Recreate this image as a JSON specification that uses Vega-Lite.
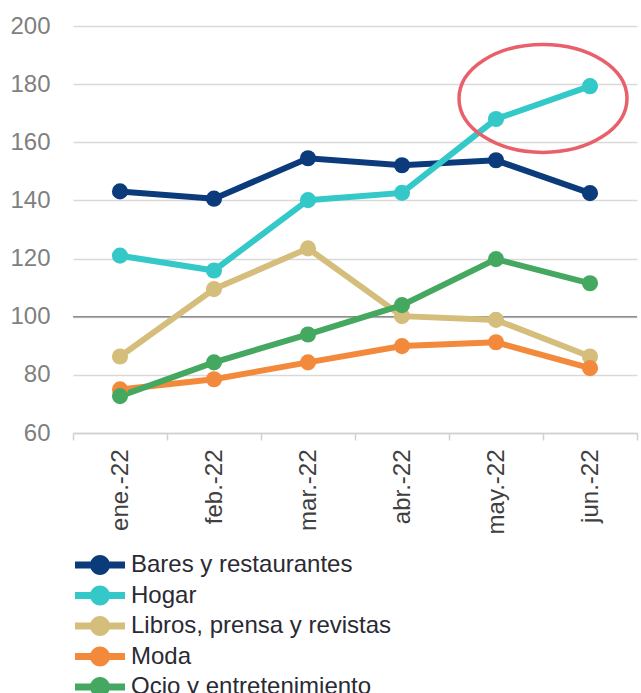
{
  "$schema": "https://vega.github.io/schema/vega-lite/v6.json",
  "width": 564,
  "height": 407,
  "autosize": {"type": "none"},
  "padding": {"left": 73, "top": 26, "right": 4, "bottom": 260},
  "background": "white",
  "config": {"view": {"stroke": null}, "font": "Liberation Sans"},
  "datasets": {
    "series": [
      {"mes": "ene.-22", "serie": "Bares y restaurantes", "valor": 143.1},
      {"mes": "feb.-22", "serie": "Bares y restaurantes", "valor": 140.6},
      {"mes": "mar.-22", "serie": "Bares y restaurantes", "valor": 154.5},
      {"mes": "abr.-22", "serie": "Bares y restaurantes", "valor": 152.1},
      {"mes": "may.-22", "serie": "Bares y restaurantes", "valor": 153.8},
      {"mes": "jun.-22", "serie": "Bares y restaurantes", "valor": 142.5},
      {"mes": "ene.-22", "serie": "Hogar", "valor": 121.0},
      {"mes": "feb.-22", "serie": "Hogar", "valor": 115.9},
      {"mes": "mar.-22", "serie": "Hogar", "valor": 140.1},
      {"mes": "abr.-22", "serie": "Hogar", "valor": 142.6},
      {"mes": "may.-22", "serie": "Hogar", "valor": 168.0},
      {"mes": "jun.-22", "serie": "Hogar", "valor": 179.3},
      {"mes": "ene.-22", "serie": "Libros, prensa y revistas", "valor": 86.3},
      {"mes": "feb.-22", "serie": "Libros, prensa y revistas", "valor": 109.5},
      {"mes": "mar.-22", "serie": "Libros, prensa y revistas", "valor": 123.5},
      {"mes": "abr.-22", "serie": "Libros, prensa y revistas", "valor": 100.2},
      {"mes": "may.-22", "serie": "Libros, prensa y revistas", "valor": 98.9},
      {"mes": "jun.-22", "serie": "Libros, prensa y revistas", "valor": 86.3},
      {"mes": "ene.-22", "serie": "Moda", "valor": 75.0},
      {"mes": "feb.-22", "serie": "Moda", "valor": 78.5},
      {"mes": "mar.-22", "serie": "Moda", "valor": 84.3},
      {"mes": "abr.-22", "serie": "Moda", "valor": 89.9},
      {"mes": "may.-22", "serie": "Moda", "valor": 91.2},
      {"mes": "jun.-22", "serie": "Moda", "valor": 82.3},
      {"mes": "ene.-22", "serie": "Ocio y entretenimiento", "valor": 72.7},
      {"mes": "feb.-22", "serie": "Ocio y entretenimiento", "valor": 84.3},
      {"mes": "mar.-22", "serie": "Ocio y entretenimiento", "valor": 93.9},
      {"mes": "abr.-22", "serie": "Ocio y entretenimiento", "valor": 104.0},
      {"mes": "may.-22", "serie": "Ocio y entretenimiento", "valor": 119.8},
      {"mes": "jun.-22", "serie": "Ocio y entretenimiento", "valor": 111.5}
    ],
    "nota": [{"mes": "may.-22", "valor": 175.1}],
    "referencia": [{"valor": 100}]
  },
  "layer": [
    {
      "data": {"name": "referencia"},
      "mark": {"type": "rule", "color": "#8c8c8c", "strokeWidth": 1.5},
      "encoding": {
        "y": {"field": "valor", "type": "quantitative", "scale": {"domain": [60, 200], "nice": false}}
      }
    },
    {
      "data": {"name": "series"},
      "mark": {"type": "line", "strokeWidth": 6},
      "encoding": {
        "x": {
          "field": "mes", "type": "ordinal", "bandPosition": 0.5,
          "sort": ["ene.-22", "feb.-22", "mar.-22", "abr.-22", "may.-22", "jun.-22"],
          "scale": {"type": "band", "paddingInner": 0, "paddingOuter": 0},
          "axis": {
            "title": null, "labelAngle": -90, "labelFontSize": 24, "labelColor": "#404040",
            "tickBand": "extent", "ticks": true, "tickSize": 7, "tickColor": "#d0d0d0", "tickWidth": 1.5,
            "domainColor": "#d0d0d0", "domainWidth": 1.5, "labelPadding": 9, "grid": false
          }
        },
        "y": {
          "field": "valor", "type": "quantitative",
          "scale": {"domain": [60, 200], "nice": false},
          "axis": {
            "title": null, "values": [60, 80, 100, 120, 140, 160, 180, 200],
            "labelFontSize": 24, "labelColor": "#7f7f7f", "ticks": false, "domain": false,
            "labelPadding": 23, "gridColor": "#d9d9d9", "gridWidth": 1.5
          }
        },
        "color": {
          "field": "serie", "type": "nominal",
          "scale": {
            "domain": ["Bares y restaurantes", "Hogar", "Libros, prensa y revistas", "Moda", "Ocio y entretenimiento"],
            "range": ["#0b3b7b", "#35c8c8", "#d5be7b", "#f38a3b", "#45a860"]
          },
          "legend": {
            "title": null, "orient": "none", "legendX": 15, "legendY": 527, "direction": "vertical",
            "symbolType": "M -2.5 -0.35 L 2.5 -0.35 L 2.5 0.35 L -2.5 0.35 Z M -1 0 A 1 1 0 1 1 1 0 A 1 1 0 1 1 -1 0 Z",
            "symbolSize": 400, "symbolStrokeWidth": 0, "symbolOpacity": 1,
            "labelFontSize": 24, "labelColor": "#2a2a35", "labelOffset": 19,
            "rowPadding": 6.5, "padding": 0, "labelLimit": 0
          }
        }
      }
    },
    {
      "data": {"name": "series"},
      "mark": {"type": "point", "filled": true, "size": 260, "opacity": 1},
      "encoding": {
        "x": {
          "field": "mes", "type": "ordinal", "bandPosition": 0.5,
          "sort": ["ene.-22", "feb.-22", "mar.-22", "abr.-22", "may.-22", "jun.-22"],
          "scale": {"type": "band", "paddingInner": 0, "paddingOuter": 0}
        },
        "y": {"field": "valor", "type": "quantitative", "scale": {"domain": [60, 200], "nice": false}},
        "color": {
          "field": "serie", "type": "nominal",
          "scale": {
            "domain": ["Bares y restaurantes", "Hogar", "Libros, prensa y revistas", "Moda", "Ocio y entretenimiento"],
            "range": ["#0b3b7b", "#35c8c8", "#d5be7b", "#f38a3b", "#45a860"]
          },
          "legend": {
            "title": null, "orient": "none", "legendX": 15, "legendY": 527, "direction": "vertical",
            "symbolType": "M -2.5 -0.35 L 2.5 -0.35 L 2.5 0.35 L -2.5 0.35 Z M -1 0 A 1 1 0 1 1 1 0 A 1 1 0 1 1 -1 0 Z",
            "symbolSize": 400, "symbolStrokeWidth": 0, "symbolOpacity": 1,
            "labelFontSize": 24, "labelColor": "#2a2a35", "labelOffset": 19,
            "rowPadding": 6.5, "padding": 0, "labelLimit": 0
          }
        }
      }
    },
    {
      "data": {"name": "nota"},
      "mark": {
        "type": "point", "filled": false, "stroke": "#e8616a", "strokeWidth": 3.5, "opacity": 1,
        "shape": "M -1 0 A 1 0.643 0 1 1 1 0 A 1 0.643 0 1 1 -1 0 Z",
        "size": 28224
      },
      "encoding": {
        "x": {
          "field": "mes", "type": "ordinal", "bandPosition": 1,
          "sort": ["ene.-22", "feb.-22", "mar.-22", "abr.-22", "may.-22", "jun.-22"],
          "scale": {"type": "band", "paddingInner": 0, "paddingOuter": 0}
        },
        "y": {"field": "valor", "type": "quantitative", "scale": {"domain": [60, 200], "nice": false}}
      }
    }
  ]
}
